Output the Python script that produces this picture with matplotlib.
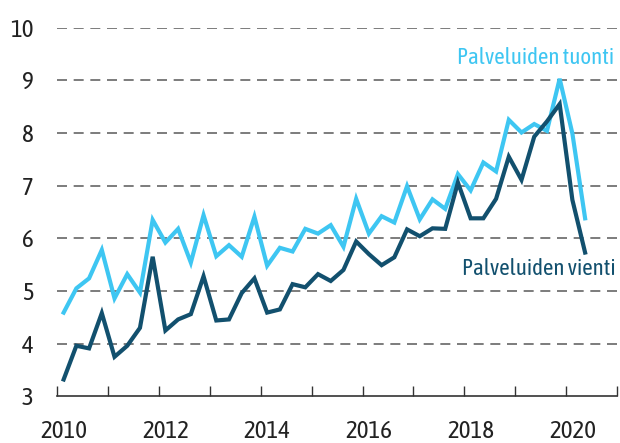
import numpy as np
import matplotlib
matplotlib.use("Agg")
from matplotlib import pyplot as plt

# quarterly values, 2010Q1 .. 2020Q2
tuonti = [4.59, 5.05, 5.24, 5.78, 4.86, 5.32, 4.97, 6.35,
          5.92, 6.18, 5.54, 6.44, 5.66, 5.87, 5.65, 6.41,
          5.48, 5.82, 5.75, 6.18, 6.09, 6.25, 5.84, 6.75,
          6.09, 6.42, 6.30, 6.99, 6.36, 6.74, 6.56, 7.22,
          6.91, 7.44, 7.27, 8.25, 8.01, 8.17, 8.04, 9.03,
          7.99, 6.38]
vienti = [3.32, 3.96, 3.91, 4.58, 3.75, 3.96, 4.30, 5.65,
          4.25, 4.46, 4.56, 5.28, 4.44, 4.46, 4.96, 5.24,
          4.59, 4.65, 5.13, 5.07, 5.32, 5.19, 5.40, 5.94,
          5.70, 5.49, 5.64, 6.17, 6.04, 6.19, 6.18, 7.06,
          6.38, 6.38, 6.75, 7.55, 7.11, 7.93, 8.22, 8.55,
          6.73, 5.73]
years = [2010, 2012, 2014, 2016, 2018, 2020]

plt.rcParams['font.family'] = ['Asap Condensed', 'Barlow Semi Condensed', 'DejaVu Sans']

light = '#3ec6f2'
dark = '#12506e'

x = 2010 + (np.arange(len(tuonti)) + 0.5) / 4

fig = plt.figure(figsize=(6.2, 4.43), dpi=100)
ax = fig.add_axes([0.0924, 0.1054, 0.9026, 0.8321])

for v in range(4, 11):
    ax.axhline(v, color='#666666', lw=1.2, dashes=(6, 4), zorder=1)

ax.plot(x, tuonti, color=light, lw=3, solid_joinstyle='miter', zorder=3)
ax.plot(x, vienti, color=dark, lw=3, solid_joinstyle='miter', zorder=3)

ax.set_xlim(2010, 2021)
ax.set_ylim(3, 10)
ax.set_yticks(range(3, 11))
ax.tick_params(axis='y', length=0, labelsize=18, pad=17, colors='#222222')

ax.set_xticks(range(2010, 2022))
ax.set_xticklabels([])
ax.tick_params(axis='x', which='major', direction='in', length=7, width=1, color='#333333')
ax.set_xticks([y + 0.125 for y in years], minor=True)
ax.set_xticklabels([str(y) for y in years], minor=True)
ax.tick_params(axis='x', which='minor', length=0, labelsize=18, pad=17, colors='#222222')

for s in ['top', 'right', 'left']:
    ax.spines[s].set_visible(False)
ax.spines['bottom'].set_color('#333333')
ax.spines['bottom'].set_linewidth(1.2)

ax.text(2020.95, 9.22, 'Palveluiden tuonti', color=light, fontsize=16.5,
        ha='right', va='bottom')
ax.text(2020.98, 5.62, 'Palveluiden vienti', color=dark, fontsize=16.5,
        ha='right', va='top')

fig.savefig('out.png', dpi=100)
